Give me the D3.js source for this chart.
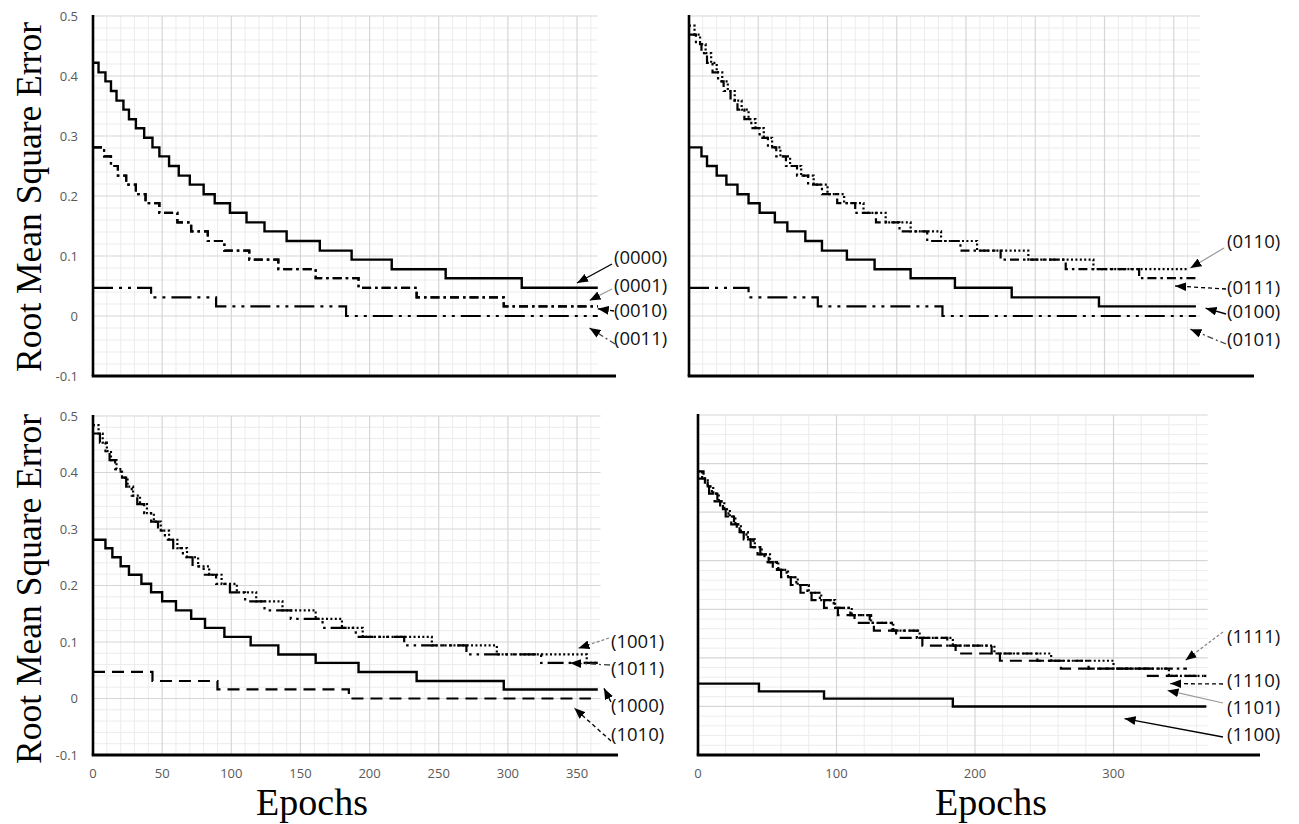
<!DOCTYPE html>
<html><head><meta charset="utf-8">
<script src="https://cdn.jsdelivr.net/npm/d3@7"></script>
<style>body{margin:0;background:#fff} svg{display:block}</style>
</head><body><svg id="chart" width="1299" height="824"></svg>
<script>
// ---------------- DATA ----------------
const epochTicksFine = [0, 50, 100, 150, 200, 250, 300, 350];
const epochTicksCoarse = [0, 100, 200, 300];
const rmseTicks = [-0.1, 0, 0.1, 0.2, 0.3, 0.4, 0.5];
const rmseTickLabels = ["-0.1", "0", "0.1", "0.2", "0.3", "0.4", "0.5"];
const xTitle = "Epochs";
const yTitle = "Root Mean Square Error";

// top-left panel
const s0000_epoch = [0,4,9,13,17,22,26,31,37,43,48,55,62,70,80,88,99,111,124,140,164,187,216,255,310,365];
const s0000_rmse  = [0.422,0.406,0.391,0.375,0.359,0.344,0.328,0.313,0.297,0.281,0.266,0.25,0.234,0.219,0.203,0.188,0.172,0.156,0.141,0.125,0.109,0.094,0.078,0.063,0.047,0.047];
const s0001_epoch = [0,8,13,18,24,31,38,48,61,71,83,95,113,134,161,192,234,297,365];
const s0001_rmse  = [0.281,0.266,0.25,0.234,0.219,0.203,0.188,0.172,0.156,0.141,0.125,0.109,0.094,0.078,0.063,0.047,0.031,0.016,0.016];
const s0010_epoch = [0,8,13,18,24,31,38,48,61,71,83,95,113,134,161,192,234,297,365];
const s0010_rmse  = [0.281,0.266,0.25,0.234,0.219,0.203,0.188,0.172,0.156,0.141,0.125,0.109,0.094,0.078,0.063,0.047,0.031,0.016,0.016];
const s0011_epoch = [0,42,89,183,365];
const s0011_rmse  = [0.047,0.031,0.016,0,0];

// top-right panel
const s0100_epoch = [0,9,13,20,27,35,43,51,62,71,84,96,114,134,160,192,233,296,366];
const s0100_rmse  = [0.281,0.266,0.25,0.234,0.219,0.203,0.188,0.172,0.156,0.141,0.125,0.109,0.094,0.078,0.063,0.047,0.031,0.016,0.016];
const s0101_epoch = [0,43,93,183,366];
const s0101_rmse  = [0.047,0.031,0.016,0,0];
const s0110_epoch = [0,4,8,12,16,20,24,28,33,38,43,48,54,60,66,73,81,90,100,112,126,142,160,182,208,245,292,360];
const s0110_rmse  = [0.484,0.469,0.453,0.438,0.422,0.406,0.391,0.375,0.359,0.344,0.328,0.313,0.297,0.281,0.266,0.25,0.234,0.219,0.203,0.188,0.172,0.156,0.141,0.125,0.109,0.094,0.078,0.078];
const s0111_epoch = [0,5,9,13,17,21,25,30,35,40,45,51,57,63,70,78,86,96,107,120,135,152,172,196,225,272,325,366];
const s0111_rmse  = [0.469,0.453,0.438,0.422,0.406,0.391,0.375,0.359,0.344,0.328,0.313,0.297,0.281,0.266,0.25,0.234,0.219,0.203,0.188,0.172,0.156,0.141,0.125,0.109,0.094,0.078,0.063,0.063];

// bottom-left panel
const s1000_epoch = [0,9,14,20,26,35,42,50,60,71,81,95,114,134,161,192,234,297,365];
const s1000_rmse  = [0.281,0.266,0.25,0.234,0.219,0.203,0.188,0.172,0.156,0.141,0.125,0.109,0.094,0.078,0.063,0.047,0.031,0.016,0.016];
const s1010_epoch = [0,43,90,185,360];
const s1010_rmse  = [0.047,0.031,0.016,0,0];
const s1001_epoch = [0,4,7,10,13,17,21,25,29,34,39,44,49,55,61,68,76,84,93,104,118,137,161,180,195,245,292,357,365];
const s1001_rmse  = [0.484,0.469,0.453,0.438,0.422,0.406,0.391,0.375,0.359,0.344,0.328,0.313,0.297,0.281,0.266,0.25,0.234,0.219,0.203,0.188,0.172,0.156,0.141,0.125,0.109,0.094,0.078,0.063,0.063];
const s1011_epoch = [0,5,9,12,16,20,24,28,32,37,42,47,52,58,65,72,80,89,99,110,124,143,166,190,225,270,324,365];
const s1011_rmse  = [0.469,0.453,0.438,0.422,0.406,0.391,0.375,0.359,0.344,0.328,0.313,0.297,0.281,0.266,0.25,0.234,0.219,0.203,0.188,0.172,0.156,0.141,0.125,0.109,0.094,0.078,0.063,0.063];

// bottom-right panel
const s1100_epoch = [0,44,91,184,367];
const s1100_rmse  = [0.047,0.031,0.016,0,0];
const s1111_epoch = [0,4,7,10,14,18,22,26,30,35,40,45,51,57,64,71,79,88,98,110,124,140,158,180,212,245,282,353];
const s1111_rmse  = [0.484,0.469,0.453,0.438,0.422,0.406,0.391,0.375,0.359,0.344,0.328,0.313,0.297,0.281,0.266,0.25,0.234,0.219,0.203,0.188,0.172,0.156,0.141,0.125,0.109,0.094,0.078,0.078];
const s1110_epoch = [0,5,8,12,16,20,24,28,33,38,43,48,54,60,67,74,82,91,101,113,127,143,162,186,218,262,324,367];
const s1110_rmse  = [0.469,0.453,0.438,0.422,0.406,0.391,0.375,0.359,0.344,0.328,0.313,0.297,0.281,0.266,0.25,0.234,0.219,0.203,0.188,0.172,0.156,0.141,0.125,0.109,0.094,0.078,0.063,0.063];
const s1101_epoch = [0,3,7,11,15,19,23,27,31,36,41,46,52,58,65,72,80,89,99,111,125,141,160,184,214,255,300,340,365];
const s1101_rmse  = [0.484,0.469,0.453,0.438,0.422,0.406,0.391,0.375,0.359,0.344,0.328,0.313,0.297,0.281,0.266,0.25,0.234,0.219,0.203,0.188,0.172,0.156,0.141,0.125,0.109,0.094,0.078,0.063,0.063];

// ---------------- STYLES / LAYOUT ----------------
const lineStyles = {
  solid:      {dash: null, w: 2.4},
  dotted:     {dash: "2,2.4", w: 2.2},
  dashDot:    {dash: "9,4,2.5,4", w: 2.2},
  dashDotDot: {dash: "16,5,2.5,5,2.5,5", w: 2.2},
  longDDD:    {dash: "20,6,3,6,3,6", w: 2.2},
  dashed:     {dash: "12,7", w: 2.2}
};
const arrowStyles = {
  solid:   {stroke: "#000", dash: null, w: 1.4},
  gray:    {stroke: "#999", dash: null, w: 1.2},
  grayDash:{stroke: "#888", dash: "3,2", w: 1.3},
  dashed:  {stroke: "#000", dash: "4,3", w: 1.3},
  dashDot: {stroke: "#444", dash: "6,3,2,3", w: 1.3}
};

const panels = [
  { x0: 93, ppe: 1.383, xMax: 365, yMin: -0.1, yMax: 0.5, yTop: 16, yBot: 376, xMajor: 50, xMinor: 10,
    yLabels: true, xLabels: null, axisEnd: 616, yTitleCy: 197,
    series: [
      {e: s0011_epoch, v: s0011_rmse, st: "longDDD"},
      {e: s0010_epoch, v: s0010_rmse, st: "dashDot"},
      {e: s0001_epoch, v: s0001_rmse, st: "dashDot"},
      {e: s0000_epoch, v: s0000_rmse, st: "solid"}],
    labels: [
      {t: "(0000)", lx: 614, ly: 258, tail: [612, 264], tip: [350, 0.055], as: "solid"},
      {t: "(0001)", lx: 614, ly: 286, tail: [612, 289], tip: [359, 0.026], as: "gray"},
      {t: "(0010)", lx: 614, ly: 311, tail: [614, 311], tip: [365, 0.012], as: "dashed"},
      {t: "(0011)", lx: 614, ly: 339, tail: [615, 344], tip: [359, -0.02], as: "dashDot"}]},
  { x0: 689, ppe: 1.385, xMax: 369, yMin: -0.1, yMax: 0.5, yTop: 16, yBot: 376, xMajor: 50, xMinor: 10,
    yLabels: false, xLabels: null, axisEnd: 1254, yTitleCy: null,
    series: [
      {e: s0101_epoch, v: s0101_rmse, st: "longDDD"},
      {e: s0100_epoch, v: s0100_rmse, st: "solid"},
      {e: s0111_epoch, v: s0111_rmse, st: "dashDot"},
      {e: s0110_epoch, v: s0110_rmse, st: "dotted"}],
    labels: [
      {t: "(0110)", lx: 1227, ly: 242, tail: [1224, 248], tip: [362, 0.08], as: "gray"},
      {t: "(0111)", lx: 1227, ly: 288, tail: [1226, 289], tip: [351, 0.05], as: "dashed"},
      {t: "(0100)", lx: 1227, ly: 312, tail: [1226, 314], tip: [373, 0.013], as: "solid"},
      {t: "(0101)", lx: 1227, ly: 340, tail: [1226, 344], tip: [362, -0.022], as: "dashDot"}]},
  { x0: 93, ppe: 1.383, xMax: 367, yMin: -0.1, yMax: 0.5, yTop: 416, yBot: 755, xMajor: 50, xMinor: 10,
    yLabels: true, xLabels: epochTicksFine, axisEnd: 618, yTitleCy: 589, xTitleCx: 312,
    series: [
      {e: s1010_epoch, v: s1010_rmse, st: "dashed"},
      {e: s1000_epoch, v: s1000_rmse, st: "solid"},
      {e: s1011_epoch, v: s1011_rmse, st: "dashDotDot"},
      {e: s1001_epoch, v: s1001_rmse, st: "dotted"}],
    labels: [
      {t: "(1001)", lx: 611, ly: 642, tail: [609, 638], tip: [351, 0.089], as: "grayDash"},
      {t: "(1011)", lx: 611, ly: 669, tail: [610, 665], tip: [345, 0.063], as: "dashDot"},
      {t: "(1000)", lx: 611, ly: 706, tail: [611, 702], tip: [369.5, 0.018], as: "solid"},
      {t: "(1010)", lx: 611, ly: 735, tail: [611, 741], tip: [348, -0.017], as: "dashed"}]},
  { x0: 698, ppe: 1.385, xMax: 368, yMin: -0.1, yMax: 0.6, yTop: 415, yBot: 755, xMajor: 100, xMinor: 20,
    yLabels: false, xLabels: epochTicksCoarse, axisEnd: 1260, yTitleCy: null, xTitleCx: 991,
    series: [
      {e: s1100_epoch, v: s1100_rmse, st: "solid"},
      {e: s1101_epoch, v: s1101_rmse, st: "dotted"},
      {e: s1110_epoch, v: s1110_rmse, st: "dashed"},
      {e: s1111_epoch, v: s1111_rmse, st: "dashDot"}],
    labels: [
      {t: "(1111)", lx: 1227, ly: 637, tail: [1223, 632], tip: [352, 0.095], as: "grayDash"},
      {t: "(1110)", lx: 1227, ly: 681, tail: [1223, 684], tip: [341, 0.047], as: "dashed"},
      {t: "(1101)", lx: 1227, ly: 708, tail: [1223, 703], tip: [339, 0.033], as: "gray"},
      {t: "(1100)", lx: 1227, ly: 735, tail: [1223, 737], tip: [308, -0.025], as: "solid"}]}
];

// ---------------- DRAW ----------------
const svg = d3.select("#chart");
svg.append("rect").attr("width", 1299).attr("height", 824).attr("fill", "#fff");
svg.append("defs").append("marker").attr("id", "arrowhead")
  .attr("viewBox", "0 0 10 8").attr("refX", 10).attr("refY", 4)
  .attr("markerWidth", 11).attr("markerHeight", 9)
  .attr("markerUnits", "userSpaceOnUse").attr("orient", "auto")
  .append("path").attr("d", "M0,0L10,4L0,8Z").attr("fill", "#000");

panels.forEach(p => {
  const x = d3.scaleLinear().domain([0, p.xMax]).range([p.x0, p.x0 + p.xMax * p.ppe]);
  const y = d3.scaleLinear().domain([p.yMin, p.yMax]).range([p.yBot, p.yTop]);
  const g = svg.append("g");

  // grid
  const nMinX = Math.floor(p.xMax / p.xMinor);
  const minorX = d3.range(1, nMinX + 1).map(i => i * p.xMinor).filter(v => v % p.xMajor !== 0);
  const majorX = d3.range(1, Math.floor(p.xMax / p.xMajor) + 1).map(i => i * p.xMajor);
  const nY = Math.round((p.yMax - p.yMin) / 0.02);
  const allY = d3.range(0, nY + 1).map(i => +(p.yMin + i * 0.02).toFixed(2));
  const minorY = allY.filter((v, i) => i % 5 !== 0);
  const majorY = allY.filter((v, i) => i % 5 === 0 && v !== p.yMin);

  g.selectAll(".mx").data(minorX).join("line")
    .attr("x1", d => x(d)).attr("x2", d => x(d)).attr("y1", y(p.yMin)).attr("y2", y(p.yMax))
    .attr("stroke", "#ececec").attr("stroke-width", 1);
  g.selectAll(".my").data(minorY).join("line")
    .attr("x1", x(0)).attr("x2", x(p.xMax)).attr("y1", d => y(d)).attr("y2", d => y(d))
    .attr("stroke", "#ececec").attr("stroke-width", 1);
  g.selectAll(".Mx").data(majorX).join("line")
    .attr("x1", d => x(d)).attr("x2", d => x(d)).attr("y1", y(p.yMin)).attr("y2", y(p.yMax))
    .attr("stroke", "#d6d6d6").attr("stroke-width", 1.2);
  g.selectAll(".My").data(majorY).join("line")
    .attr("x1", x(0)).attr("x2", x(p.xMax)).attr("y1", d => y(d)).attr("y2", d => y(d))
    .attr("stroke", "#d6d6d6").attr("stroke-width", 1.2);

  // series
  const line = d3.line().x(d => x(d[0])).y(d => y(d[1])).curve(d3.curveStepAfter);
  p.series.forEach(s => {
    const pts = s.e.map((e, i) => [e, s.v[i]]);
    const st = lineStyles[s.st];
    g.append("path").attr("d", line(pts)).attr("fill", "none")
      .attr("stroke", "#000").attr("stroke-width", st.w)
      .attr("stroke-dasharray", st.dash).attr("stroke-linecap", "butt");
  });

  // axes lines
  g.append("line").attr("x1", x(0)).attr("x2", x(0)).attr("y1", y(p.yMax) - 1).attr("y2", y(p.yMin))
    .attr("stroke", "#000").attr("stroke-width", 2.6);
  g.append("line").attr("x1", x(0) - 1.3).attr("x2", p.axisEnd).attr("y1", y(p.yMin)).attr("y2", y(p.yMin))
    .attr("stroke", "#000").attr("stroke-width", 3);

  // y tick labels
  if (p.yLabels) {
    g.selectAll(".yt").data(rmseTicks).join("text")
      .attr("x", p.x0 - 15).attr("y", d => y(d)).attr("dy", "0.35em")
      .attr("text-anchor", "end").attr("font-family", "'Open Sans', sans-serif")
      .attr("font-size", 13).attr("fill", "#595959")
      .text((d, i) => rmseTickLabels[i]);
  }
  // x tick labels
  if (p.xLabels) {
    g.selectAll(".xt").data(p.xLabels).join("text")
      .attr("x", d => x(d)).attr("y", p.yBot + 18).attr("dy", "0.35em")
      .attr("text-anchor", "middle").attr("font-family", "'Open Sans', sans-serif")
      .attr("font-size", 13).attr("fill", "#595959")
      .text(d => d);
    g.append("text").attr("x", p.xTitleCx).attr("y", 815)
      .attr("text-anchor", "middle").attr("font-family", "'Liberation Serif', 'Times New Roman', serif")
      .attr("font-size", 38).attr("fill", "#000").text(xTitle);
  }
  if (p.yTitleCy) {
    g.append("text").attr("transform", `translate(41,${p.yTitleCy}) rotate(-90)`)
      .attr("text-anchor", "middle").attr("font-family", "'Liberation Serif', 'Times New Roman', serif")
      .attr("font-size", 35.5).attr("fill", "#000").text(yTitle);
  }

  // labels + arrows
  p.labels.forEach(l => {
    const a = arrowStyles[l.as];
    g.append("line").attr("x1", l.tail[0]).attr("y1", l.tail[1])
      .attr("x2", x(l.tip[0])).attr("y2", y(l.tip[1]))
      .attr("stroke", a.stroke).attr("stroke-width", a.w).attr("stroke-dasharray", a.dash)
      .attr("marker-end", "url(#arrowhead)");
    g.append("text").attr("x", l.lx).attr("y", l.ly).attr("dy", "0.35em")
      .attr("font-family", "'Open Sans', sans-serif").attr("font-size", 18.5)
      .attr("fill", "#111").text(l.t);
  });
});
</script>
</body></html>
